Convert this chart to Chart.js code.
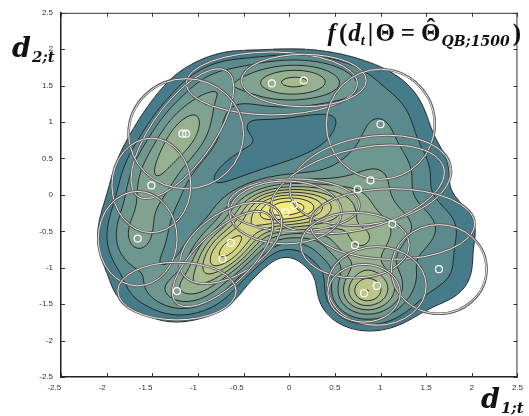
<!DOCTYPE html>
<html lang="en">
<head>
<meta charset="UTF-8">
<title>Mixture density f(d_t)</title>
<script src="https://cdn.jsdelivr.net/npm/chart.js"></script>
<style>
    body { margin: 0; background: #fff; }
    #wrap { width: 529px; height: 416px; }
</style>
</head>
<body>
<div id="wrap"><canvas id="densityChart" width="529" height="416"></canvas></div>
<script>
// Gaussian mixture components (means, std devs, rotation in degrees, peak heights)
const compX     = [-0.19, 0.16, -1.17, -1.13, -1.51, 1.00, 0.89, 0.75, 0.05, -0.04, 1.13, 0.72, 1.64, 0.96, 0.82, -1.66, -0.64, -0.73, -1.23, -0.20, -1.05];
const compY     = [1.53, 1.57, 0.84, 0.84, 0.13, 0.97, 0.20, 0.075, -0.14, -0.24, -0.40, -0.69, -1.02, -1.25, -1.35, -0.60, -0.66, -0.88, -1.32, 0.72, -0.25];
const compSx    = [0.52, 0.38, 0.55, 0.35, 0.24, 0.33, 0.50, 0.55, 0.40, 0.34, 0.50, 0.33, 0.29, 0.30, 0.22, 0.24, 0.38, 0.44, 0.36, 0.60, 0.28];
const compSy    = [0.24, 0.20, 0.20, 0.42, 0.36, 0.42, 0.33, 0.30, 0.20, 0.24, 0.27, 0.25, 0.34, 0.30, 0.22, 0.36, 0.22, 0.18, 0.22, 0.40, 0.50];
const compAngle = [0, 0, 62, 0, 0, 0, 15, 20, 0, 0, 0, 0, 0, 0, 0, 0, 45, 52, 0, 0, 0];
const compH     = [0.25, 0.30, 0.30, 0.12, 0.20, 0.18, 0.15, 0.12, 0.50, 0.45, 0.25, 0.33, 0.12, 0.30, 0.42, 0.30, 0.48, 0.37, 0.23, 0.11, 0.09];
const compShown = [1, 1, 1, 1, 1, 1, 1, 1, 1, 1, 1, 1, 1, 1, 1, 1, 1, 1, 1, 0, 0];
const ellipseSigma = 1.8;

// contour levels and the fill colour of each band above them
const levels = [0.06, 0.12, 0.2, 0.3, 0.4, 0.5, 0.6, 0.7, 0.8, 0.9, 1.0];
const bandColors = ['#467c89', '#5a8a8d', '#6e9790', '#82a291', '#96b090', '#a9bb8d',
                    '#bcc689', '#cdd085', '#dcd981', '#e9e27d', '#f5ec7a'];

const axisMin = -2.5, axisMax = 2.5, tickStep = 0.5;
const tickValues = [-2.5, -2, -1.5, -1, -0.5, 0, 0.5, 1, 1.5, 2, 2.5];

const comps = compX.map((x, i) => {
    const a = compAngle[i] * Math.PI / 180;
    return { x, y: compY[i], sx: compSx[i], sy: compSy[i], c: Math.cos(a), s: Math.sin(a), h: compH[i] };
});

function density(x, y) {
    let f = 0;
    for (const k of comps) {
        const dx = x - k.x, dy = y - k.y;
        const u = (dx * k.c + dy * k.s) / k.sx;
        const v = (-dx * k.s + dy * k.c) / k.sy;
        f += k.h * Math.exp(-0.5 * (u * u + v * v));
    }
    return f;
}

function hexToRgb(h) {
    return [parseInt(h.slice(1, 3), 16), parseInt(h.slice(3, 5), 16), parseInt(h.slice(5, 7), 16)];
}

function drawContours(ctx, vals, nx, ny, x0, y0, step, level) {
    const w = nx + 1;
    ctx.beginPath();
    for (let j = 0; j < ny; j++) {
        for (let i = 0; i < nx; i++) {
            const a = vals[j * w + i], b = vals[j * w + i + 1];
            const c = vals[(j + 1) * w + i + 1], d = vals[(j + 1) * w + i];
            const code = (a >= level ? 8 : 0) | (b >= level ? 4 : 0) | (c >= level ? 2 : 0) | (d >= level ? 1 : 0);
            if (code === 0 || code === 15) continue;
            const px = x0 + i * step, py = y0 + j * step;
            const T = () => [px + step * (level - a) / (b - a), py];
            const R = () => [px + step, py + step * (level - b) / (c - b)];
            const B = () => [px + step * (level - d) / (c - d), py + step];
            const L = () => [px, py + step * (level - a) / (d - a)];
            const seg = (p, q) => { ctx.moveTo(p[0], p[1]); ctx.lineTo(q[0], q[1]); };
            switch (code) {
                case 1: case 14: seg(L(), B()); break;
                case 2: case 13: seg(B(), R()); break;
                case 3: case 12: seg(L(), R()); break;
                case 4: case 11: seg(T(), R()); break;
                case 6: case 9: seg(T(), B()); break;
                case 7: case 8: seg(T(), L()); break;
                case 5: seg(T(), R()); seg(L(), B()); break;
                case 10: seg(L(), T()); seg(R(), B()); break;
            }
        }
    }
    ctx.stroke();
}

// filled contours, contour lines and component ellipses, under the mean markers
const densityLayer = {
    id: 'densityLayer',
    beforeDatasetsDraw(chart) {
        const { ctx, chartArea: area, scales: { x: xs, y: ys } } = chart;
        const W = Math.round(area.right - area.left), H = Math.round(area.bottom - area.top);
        const off = document.createElement('canvas');
        off.width = W; off.height = H;
        const octx = off.getContext('2d');
        const img = octx.createImageData(W, H);
        const rgb = bandColors.map(hexToRgb);
        const colX = [], rowY = [];
        for (let i = 0; i < W; i++) colX.push(xs.getValueForPixel(area.left + i + 0.5));
        for (let j = 0; j < H; j++) rowY.push(ys.getValueForPixel(area.top + j + 0.5));
        for (let j = 0; j < H; j++) {
            for (let i = 0; i < W; i++) {
                const f = density(colX[i], rowY[j]);
                let k = 0;
                while (k < levels.length && f >= levels[k]) k++;
                if (k === 0) continue;
                const p = (j * W + i) * 4, col = rgb[k - 1];
                img.data[p] = col[0]; img.data[p + 1] = col[1]; img.data[p + 2] = col[2]; img.data[p + 3] = 255;
            }
        }
        octx.putImageData(img, 0, 0);

        ctx.save();
        ctx.beginPath();
        ctx.rect(area.left, area.top, area.right - area.left, area.bottom - area.top);
        ctx.clip();
        ctx.drawImage(off, area.left, area.top);

        // contour lines from a coarser grid
        const step = 2;
        const nx = Math.ceil(W / step), ny = Math.ceil(H / step);
        const vals = new Float64Array((nx + 1) * (ny + 1));
        for (let j = 0; j <= ny; j++) {
            const yv = ys.getValueForPixel(area.top + j * step);
            for (let i = 0; i <= nx; i++) {
                vals[j * (nx + 1) + i] = density(xs.getValueForPixel(area.left + i * step), yv);
            }
        }
        ctx.strokeStyle = '#1e1e1e';
        ctx.lineWidth = 0.9;
        ctx.lineJoin = 'round';
        for (const lv of levels) drawContours(ctx, vals, nx, ny, area.left, area.top, step, lv);

        // component ellipses
        const kx = Math.abs(xs.getPixelForValue(1) - xs.getPixelForValue(0));
        const ky = Math.abs(ys.getPixelForValue(1) - ys.getPixelForValue(0));
        comps.forEach((k, i) => {
            if (!compShown[i]) return;
            ctx.save();
            ctx.translate(xs.getPixelForValue(k.x), ys.getPixelForValue(k.y));
            ctx.scale(kx, -ky);
            ctx.rotate(compAngle[i] * Math.PI / 180);
            ctx.beginPath();
            ctx.ellipse(0, 0, ellipseSigma * k.sx, ellipseSigma * k.sy, 0, 0, Math.PI * 2);
            ctx.restore();
            ctx.lineWidth = 2.6;
            ctx.strokeStyle = '#5c5c5c';
            ctx.stroke();
            ctx.lineWidth = 1;
            ctx.strokeStyle = 'rgba(255,255,255,0.85)';
            ctx.stroke();
        });
        ctx.restore();
    }
};

// draws a run of text pieces one after another; dx adds space before a piece
function drawParts(ctx, parts, x, y, alignRight) {
    let total = 0;
    for (const p of parts) { ctx.font = p.font; p.w = ctx.measureText(p.text).width; total += p.w + (p.dx || 0); }
    let cx = alignRight ? x - total : x;
    ctx.textAlign = 'left';
    for (const p of parts) {
        cx += p.dx || 0;
        ctx.font = p.font;
        ctx.fillText(p.text, cx, y + (p.dy || 0));
        if (p.hat) {
            ctx.textAlign = 'center';
            ctx.fillText('\u02C6', cx + p.w / 2, y - 5);
            ctx.textAlign = 'left';
        }
        cx += p.w;
    }
}

// box, inward ticks and the math-style labels
const frameLayer = {
    id: 'frameLayer',
    afterDraw(chart) {
        const { ctx, chartArea: a, scales: { x: xs, y: ys } } = chart;
        ctx.save();
        ctx.strokeStyle = '#333';
        ctx.lineWidth = 1;
        ctx.beginPath();
        ctx.moveTo(a.left, a.top + 0.5); ctx.lineTo(a.right, a.top + 0.5);
        ctx.moveTo(a.right - 0.5, a.top); ctx.lineTo(a.right - 0.5, a.bottom);
        for (const v of tickValues) {
            const px = Math.round(xs.getPixelForValue(v)) + 0.5;
            const py = Math.round(ys.getPixelForValue(v)) + 0.5;
            ctx.moveTo(px, a.top); ctx.lineTo(px, a.top + 4);
            ctx.moveTo(px, a.bottom); ctx.lineTo(px, a.bottom - 4);
            ctx.moveTo(a.left, py); ctx.lineTo(a.left + 4, py);
            ctx.moveTo(a.right, py); ctx.lineTo(a.right - 4, py);
        }
        ctx.stroke();

        ctx.fillStyle = '#111';
        ctx.textBaseline = 'alphabetic';
        const big = 'bold italic 27px "DejaVu Serif"';
        const sub = 'bold italic 15px "DejaVu Serif"';
        drawParts(ctx, [{ text: 'd', font: big }, { text: '2;t', font: sub, dy: 5, dx: 1 }], 12, 57, false);
        drawParts(ctx, [{ text: 'd', font: big }, { text: '1;t', font: sub, dy: 5, dx: 1 }], 481, 408, false);

        const rm = 'bold 25px "Liberation Serif"', it = 'bold italic 25px "Liberation Serif"';
        const si = 'bold italic 15px "Liberation Serif"', sq = 'bold italic 14px "DejaVu Serif"';
        drawParts(ctx, [
            { text: 'f', font: it }, { text: '(', font: rm, dx: 3 }, { text: 'd', font: it, dx: 1 },
            { text: 't', font: si, dy: 4 }, { text: '|', font: rm, dx: 3 }, { text: '\u0398', font: rm, dx: 2 },
            { text: '=', font: rm, dx: 6 }, { text: '\u0398', font: rm, dx: 6, hat: true },
            { text: 'QB;1500', font: sq, dy: 5, dx: 1 }, { text: ')', font: rm, dx: 3 }
        ], 521, 41, true);
        ctx.restore();
    }
};

// negative x labels sit left of their tick, the others are centred
const xTickLabel = v => v < 0 ? String(v) + '\u2007'.repeat(String(v).length <= 2 ? 2 : 3) : String(v);

new Chart(document.getElementById('densityChart'), {
    type: 'scatter',
    data: {
        datasets: [{
            label: 'component means',
            data: compX.map((x, i) => ({ x, y: compY[i] })).filter((p, i) => compShown[i]),
            pointStyle: 'circle',
            pointRadius: 3.5,
            pointBorderWidth: 1.2,
            pointBorderColor: '#ffffff',
            pointBackgroundColor: 'rgba(0,0,0,0)'
        }]
    },
    options: {
        responsive: false,
        animation: false,
        layout: { padding: { top: 12, right: 5, left: 0, bottom: 0 } },
        plugins: { legend: { display: false }, tooltip: { enabled: false } },
        scales: {
            x: {
                type: 'linear', min: axisMin, max: axisMax,
                grid: { display: false, drawTicks: false },
                border: { display: true, color: '#222', width: 1.5 },
                ticks: { stepSize: tickStep, padding: 6, color: '#333', font: { family: 'Liberation Sans', size: 8 },
                         maxRotation: 0, callback: xTickLabel },
                afterFit: s => { s.height = 39; }
            },
            y: {
                type: 'linear', min: axisMin, max: axisMax,
                grid: { display: false, drawTicks: false },
                border: { display: true, color: '#222', width: 1.5 },
                ticks: { stepSize: tickStep, padding: 8, color: '#333', font: { family: 'Liberation Sans', size: 8 },
                         callback: v => String(v) },
                afterFit: s => { s.width = 61; }
            }
        }
    },
    plugins: [densityLayer, frameLayer]
});
</script>
</body>
</html>
